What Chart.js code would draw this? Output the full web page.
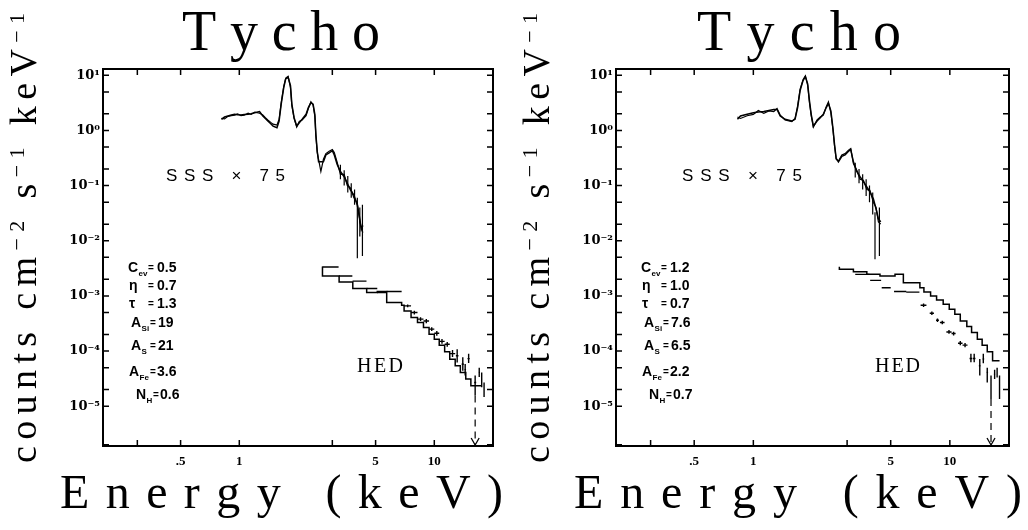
<!DOCTYPE html>
<html><head><meta charset="utf-8">
<script src="https://cdn.jsdelivr.net/npm/chart.js@4.4.1/dist/chart.umd.min.js"></script>
<style>
html,body{margin:0;padding:0;background:#fff;}
body{width:1028px;height:530px;position:relative;overflow:hidden;}
canvas{position:absolute;top:0;}
#cL{left:0;} #cR{left:513px;}
</style></head><body>
<canvas id="cL" width="515" height="530"></canvas>
<canvas id="cR" width="515" height="530"></canvas>
<script>
// ---------- axes ----------
const xMin = 0.2, xMax = 20;
const yMin = 1.9e-6, yMax = 13;
const xTickVals = [0.3, 0.5, 1, 3, 5, 10, 20];
const xTickText = ['', '.5', '1', '', '5', '10', ''];
const yTickVals = [2e-6, 1e-5, 2e-5, 5e-5, 1e-4, 2e-4, 5e-4, 1e-3, 2e-3, 5e-3, 1e-2, 2e-2, 5e-2, 0.1, 0.2, 0.5, 1, 2, 5, 10];
const yTickText = ['', '10⁻⁵', '', '', '10⁻⁴', '', '', '10⁻³', '', '', '10⁻²', '', '', '10⁻¹', '', '', '10⁰', '', '', '10¹'];

// ---------- text ----------
const titleText = 'Tycho';
const xTitleText = 'Energy (keV)';
const sssText = 'SSS × 75';
const hedText = 'HED';
const paramNames = ['C', 'η', 'τ', 'A', 'A', 'A', 'N'];
const paramSubs = ['ev', '', '', 'Si', 'S', 'Fe', 'H'];
const paramVals_L = ['0.5', '0.7', '1.3', '19', '21', '3.6', '0.6'];
const paramVals_R = ['1.2', '1.0', '0.7', '7.6', '6.5', '2.2', '0.7'];

// ---------- left panel: SSS ----------
const sssE_L = [0.81,0.84,0.875,0.91,0.946,0.98,1.02,1.06,1.11,1.15,1.20,1.27,1.32,1.36,1.40,1.45,1.49,1.56,1.60,1.64,1.69,1.73,1.78,1.83,1.86,1.91,1.97,2.03,2.10,2.20,2.26,2.33,2.39,2.44,2.47,2.51,2.55,2.62,2.70,2.78,2.89,3.00,3.07,3.18,3.30,3.45,3.58,3.72,3.87,4.03,4.15,4.22,4.30];
const sssModel_L = [1.59,1.75,1.83,1.90,1.96,1.93,1.91,1.95,1.96,2.0,2.1,2.2,1.83,1.65,1.48,1.32,1.2,1.12,1.48,3.0,6.0,8.6,9.2,6.5,3.0,1.70,1.2,1.38,1.59,1.96,2.6,3.2,3.0,1.96,0.84,0.42,0.27,0.27,0.27,0.36,0.39,0.43,0.36,0.24,0.18,0.145,0.11,0.083,0.067,0.044,0.025,0.016,0.019];
const sssObs_L = [1.66,1.62,1.80,1.85,1.90,2.0,1.86,1.90,2.05,1.95,2.15,2.05,1.90,1.70,1.55,1.40,1.30,1.25,1.60,3.2,6.3,8.9,9.6,6.0,2.8,1.65,1.15,1.45,1.55,1.85,2.5,3.3,2.9,1.8,0.80,0.40,0.30,0.18,0.30,0.38,0.42,0.45,0.40,0.26,0.16,0.16,0.10,0.09,0.060,0.048,0.022,0.018,0.014];
const sssErrE_L = [3.3, 3.45, 3.6, 3.75, 3.9, 4.03, 4.15, 4.28];
const sssErrLo_L = [0.13, 0.10, 0.075, 0.06, 0.045, 0.0048, 0.012, 0.0053];
const sssErrHi_L = [0.24, 0.19, 0.15, 0.11, 0.085, 0.06, 0.04, 0.045];
// ---------- left panel: HED ----------
const hedEdges_L = [2.67,3.25,3.82,4.5,5.1,5.7,6.8,7.0,7.6,8.2,8.8,9.4,10.0,10.6,11.3,12.0,12.8,13.6,14.5,15.4,16.5,17.5];
const hedModel_L = [3.4e-3,2.3e-3,1.78e-3,1.36e-3,1.15e-3,1.2e-3,7.6e-4,6.8e-4,5.3e-4,4.05e-4,3.3e-4,2.67e-4,2.02e-4,1.64e-4,1.28e-4,9.7e-5,7.1e-5,5.4e-5,4.1e-5,3.1e-5,2.35e-5];
const hedDE_L = [2.95,3.52,4.15,4.8,5.4,6.25,7.3,7.9,8.5,9.1,9.7,10.3,10.95,11.65,12.4,13.1,14.0,14.4,15.0,16.2,17.0,17.5,18.0];
const hedDW_L = [0.28,0.28,0.34,0.3,0.3,0.55,0.3,0.3,0.3,0.3,0.3,0.3,0.35,0.35,0.4,0.2,0.2,0.15,0.2,0.2,0.15,0.15,0.15];
const hedDV_L = [3.35e-3,2.3e-3,1.85e-3,1.36e-3,1.15e-3,1.2e-3,6.6e-4,5.0e-4,3.8e-4,3.5e-4,2.5e-4,2.1e-4,1.5e-4,1.33e-4,9.0e-5,8.2e-5,5.8e-5,4.6e-5,7.3e-5,2.7e-5,4.1e-5,3.1e-5,2.2e-5];
const hedDErrLo_L = [null,null,null,null,null,null,6.2e-4,4.6e-4,3.5e-4,3.2e-4,2.3e-4,1.9e-4,1.35e-4,1.2e-4,7.8e-5,6.2e-5,4.4e-5,3.6e-5,6.1e-5,1.57e-5,3.4e-5,2.2e-5,1.47e-5];
const hedDErrHi_L = [null,null,null,null,null,null,7.0e-4,5.4e-4,4.1e-4,3.8e-4,2.7e-4,2.3e-4,1.65e-4,1.46e-4,1.04e-4,1.08e-4,7.7e-5,5.8e-5,8.9e-5,3.6e-5,5.0e-5,4.1e-5,2.7e-5];
const ulE_L = 16.2, ulTop_L = 1.57e-5;

// ---------- right panel: SSS ----------
const sssE_R = [0.83,0.86,0.93,1.0,1.06,1.13,1.20,1.27,1.32,1.37,1.45,1.57,1.63,1.68,1.73,1.79,1.84,1.89,1.93,1.97,2.02,2.11,2.19,2.27,2.35,2.41,2.48,2.54,2.59,2.64,2.71,2.82,2.93,3.05,3.13,3.23,3.36,3.49,3.63,3.78,3.92,4.08,4.21,4.33,4.45];
const sssModel_R = [1.59,1.83,1.96,2.1,2.15,2.2,2.3,2.4,2.4,1.83,1.59,1.48,1.59,2.6,5.3,8.0,9.5,7.0,3.45,1.96,1.2,1.48,1.70,1.96,2.6,3.1,2.26,1.12,0.55,0.31,0.27,0.34,0.36,0.42,0.45,0.27,0.18,0.145,0.118,0.095,0.077,0.058,0.038,0.025,0.022];
const sssObs_R = [1.75,1.65,1.85,1.95,2.3,2.05,2.25,2.2,2.5,1.9,1.55,1.45,1.65,2.8,5.6,8.3,9.8,6.6,3.2,1.85,1.15,1.55,1.75,1.9,2.7,3.3,2.1,1.05,0.52,0.30,0.28,0.36,0.38,0.44,0.47,0.25,0.19,0.13,0.125,0.085,0.082,0.05,0.04,0.022,0.02];
const sssErrE_R = [3.3, 3.45, 3.6, 3.75, 3.9, 4.05, 4.16, 4.38];
const sssErrLo_R = [0.14, 0.11, 0.085, 0.065, 0.05, 0.03, 0.0046, 0.0053];
const sssErrHi_R = [0.26, 0.2, 0.16, 0.13, 0.1, 0.075, 0.033, 0.04];
// ---------- right panel: HED ----------
const hedEdges_R = [2.74,3.23,3.78,4.41,5.26,5.8,7.04,7.38,7.98,8.56,9.25,9.93,10.6,11.3,12.2,12.9,13.8,14.6,15.5,16.5,17.3,17.9];
const hedModel_R = [3.39e-3,3.03e-3,2.75e-3,2.46e-3,2.29e-3,2.46e-3,1.74e-3,1.41e-3,1.18e-3,9.96e-4,8.4e-4,7.05e-4,5.72e-4,4.65e-4,3.52e-4,2.79e-4,2.17e-4,1.64e-4,1.28e-4,9.7e-5,6.65e-5];
const hedDE_R = [3.6,4.2,4.75,5.6,6.5,7.35,8.1,8.65,9.15,9.9,10.45,11.3,11.95,12.8,13.3,14.2,14.8,15.5,16.2,16.9,17.4,17.9];
const hedDW_R = [0.3,0.27,0.25,0.4,0.5,0.25,0.2,0.15,0.25,0.3,0.25,0.3,0.35,0.2,0.2,0.15,0.15,0.15,0.1,0.15,0.1,0.1];
const hedDV_R = [2.46e-3,1.91e-3,1.41e-3,1.2e-3,1.17e-3,6.76e-4,4.85e-4,3.62e-4,3.29e-4,2.22e-4,2.08e-4,1.39e-4,1.28e-4,7.35e-5,7.35e-5,5.4e-5,7.2e-5,4.1e-5,2.7e-5,3.8e-5,4.1e-5,2.35e-5];
const hedDErrLo_R = [null,null,null,null,null,6.3e-4,4.5e-4,3.35e-4,3.05e-4,2.05e-4,1.92e-4,1.27e-4,1.17e-4,6.3e-5,6.3e-5,3.6e-5,6.0e-5,2.7e-5,1.35e-5,3.1e-5,3.3e-5,1.35e-5];
const hedDErrHi_R = [null,null,null,null,null,7.3e-4,5.2e-4,3.9e-4,3.55e-4,2.4e-4,2.25e-4,1.52e-4,1.4e-4,8.9e-5,8.9e-5,7.2e-5,8.9e-5,5.0e-5,3.6e-5,4.6e-5,5.0e-5,3.6e-5];
const ulE_R = 16.2, ulTop_R = 1.35e-5;

// ---------- builders ----------
function linePts(E, V) { return E.map((e, i) => ({x: e, y: V[i]})); }
function histPts(edges, vals) {
  const pts = vals.map((v, i) => ({x: edges[i], y: v}));
  pts.push({x: edges[edges.length - 1], y: vals[vals.length - 1]});
  return pts;
}
function barPts(E, lo, hi) {
  const pts = [];
  E.forEach((e, i) => { pts.push({x: e, y: lo[i]}, {x: e, y: hi[i]}, {x: e, y: null}); });
  return pts;
}
function crossPts(E, W, V, lo, hi) {
  const pts = [];
  E.forEach((e, i) => {
    pts.push({x: e - W[i], y: V[i]}, {x: e + W[i], y: V[i]}, {x: e, y: null});
    if (lo[i] != null) pts.push({x: e, y: lo[i]}, {x: e, y: hi[i]}, {x: e, y: null});
  });
  return pts;
}

// ---------- text helpers ----------
function drawSpaced(ctx, text, x0, x1, baseline, font) {
  ctx.font = font;
  const chars = [...text];
  const w = chars.map(c => ctx.measureText(c).width);
  const tot = w.reduce((a, b) => a + b, 0);
  const gap = chars.length > 1 ? (x1 - x0 - tot) / (chars.length - 1) : 0;
  let x = x0;
  chars.forEach((c, i) => { ctx.fillText(c, x, baseline); x += w[i] + gap; });
}
function drawRichSpaced(ctx, parts, len) {
  const glyphs = [];
  parts.forEach(p => { ctx.font = p.font; [...p.t].forEach(c => glyphs.push({c, font: p.font, dy: p.dy, w: ctx.measureText(c).width})); });
  const tot = glyphs.reduce((a, g) => a + g.w, 0);
  const gap = (len - tot) / (glyphs.length - 1);
  let x = 0;
  glyphs.forEach(g => { ctx.font = g.font; ctx.fillText(g.c, x, g.dy); x += g.w + gap; });
}

const decor = {
  id: 'decor',
  afterDraw(chart, args, o) {
    const {ctx, chartArea: a} = chart;
    const xs = chart.scales.x, ys = chart.scales.y;
    ctx.save();
    ctx.strokeStyle = '#000'; ctx.fillStyle = '#000';
    ctx.setLineDash([]);
    // frame
    ctx.lineWidth = 2;
    ctx.strokeRect(a.left, a.top, a.right - a.left, a.bottom - a.top);
    // inward ticks on all four sides
    ctx.lineWidth = 1.5;
    ctx.beginPath();
    xTickVals.forEach(v => {
      const px = xs.getPixelForValue(v);
      if (px <= a.left + 1 || px >= a.right - 1) return;
      ctx.moveTo(px, a.bottom); ctx.lineTo(px, a.bottom - 6);
      ctx.moveTo(px, a.top); ctx.lineTo(px, a.top + 6);
    });
    yTickVals.forEach(v => {
      const py = ys.getPixelForValue(v);
      if (py >= a.bottom - 0.5 || py <= a.top + 1) return;
      ctx.moveTo(a.left, py); ctx.lineTo(a.left + 6, py);
      ctx.moveTo(a.right, py); ctx.lineTo(a.right - 6, py);
    });
    ctx.stroke();
    // arrow head of the upper limit
    const ux = xs.getPixelForValue(o.ulE);
    ctx.lineWidth = 1.3;
    ctx.beginPath();
    ctx.moveTo(ux - 4, a.bottom - 8); ctx.lineTo(ux, a.bottom - 1); ctx.lineTo(ux + 4, a.bottom - 8);
    ctx.stroke();
    // titles
    ctx.textBaseline = 'alphabetic'; ctx.textAlign = 'left';
    drawSpaced(ctx, titleText, o.title[0], o.title[1], 50, '56px "Liberation Serif"');
    drawSpaced(ctx, xTitleText, o.energy[0], o.energy[1], 508, '48px "Liberation Serif"');
    drawSpaced(ctx, sssText, o.sss[0], o.sss[1], 180.5, '17px "Liberation Sans"');
    drawSpaced(ctx, hedText, o.hed[0], o.hed[1], 371.5, '20px "Liberation Serif"');
    // y title (rotated)
    ctx.save();
    ctx.translate(o.yTitleX, 463);
    ctx.rotate(-Math.PI / 2);
    const big = '38px "Liberation Serif"', small = '22px "Liberation Serif"';
    drawRichSpaced(ctx, [
      {t: 'counts cm', font: big, dy: 0}, {t: '−2', font: small, dy: -12},
      {t: ' s', font: big, dy: 0}, {t: '−1', font: small, dy: -12},
      {t: ' keV', font: big, dy: 0}, {t: '−1', font: small, dy: -12}
    ], 450);
    ctx.restore();
    // parameters
    const nameX = [128, 129, 129, 131, 131, 129, 136];
    const eqX = [148, 148, 148, 150, 150, 150, 153];
    const valX = [157, 157, 157, 158, 158, 157, 160];
    const base = [271.7, 290, 308.3, 326.7, 350, 376, 399.3];
    paramNames.forEach((n, i) => {
      ctx.font = 'bold 14px "Liberation Sans"';
      ctx.fillText(n, nameX[i], base[i]);
      const w = ctx.measureText(n).width;
      ctx.fillText(o.params[i], valX[i], base[i]);
      ctx.font = 'bold 10px "Liberation Sans"';
      ctx.fillText('=', eqX[i], base[i] - 1);
      if (paramSubs[i]) {
        ctx.font = 'bold 8px "Liberation Sans"';
        ctx.fillText(paramSubs[i], nameX[i] + w + 0.5, base[i] + 4);
      }
    });
    ctx.restore();
  }
};

function makeChart(id, p, deco, padRight) {
  const base = {borderColor: '#000', backgroundColor: '#000', pointRadius: 0, fill: false, tension: 0, spanGaps: false};
  return new Chart(document.getElementById(id), {
    type: 'line',
    data: {
      datasets: [
        {...base, label: 'SSS model', data: linePts(p.sssE, p.sssModel), borderWidth: 1.5},
        {...base, label: 'SSS data', data: linePts(p.sssE, p.sssObs), borderWidth: 1.2},
        {...base, label: 'SSS errors', data: barPts(p.sssErrE, p.sssErrLo, p.sssErrHi), borderWidth: 1.2},
        {...base, label: 'HED model', data: histPts(p.hedEdges, p.hedModel), stepped: 'after', borderWidth: 1.5},
        {...base, label: 'HED data', data: crossPts(p.hedDE, p.hedDW, p.hedDV, p.hedDErrLo, p.hedDErrHi), borderWidth: 1.4},
        {...base, label: 'HED upper limit', data: [{x: p.ulE, y: p.ulTop}, {x: p.ulE, y: yMin}], borderDash: [7, 5], borderWidth: 1.2}
      ]
    },
    options: {
      responsive: false, animation: false, events: [],
      layout: {padding: {left: 0, right: padRight, top: 69, bottom: 0}},
      plugins: {legend: {display: false}, title: {display: false}, tooltip: {enabled: false}, decor: deco},
      scales: {
        x: {
          type: 'logarithmic', min: xMin, max: xMax, position: 'bottom',
          grid: {display: false, drawTicks: false}, border: {display: false},
          afterBuildTicks: s => { s.ticks = xTickVals.map(v => ({value: v})); },
          afterFit: s => { s.height = 84; },
          ticks: {
            autoSkip: false, maxRotation: 0, padding: 8, color: '#000',
            font: {family: '"Liberation Serif"', weight: 'bold', size: 13},
            callback: (v) => { const i = xTickVals.indexOf(v); return i >= 0 ? xTickText[i] : ''; }
          }
        },
        y: {
          type: 'logarithmic', min: yMin, max: yMax, position: 'left',
          grid: {display: false, drawTicks: false}, border: {display: false},
          afterBuildTicks: s => { s.ticks = yTickVals.map(v => ({value: v})); },
          afterFit: s => { s.width = 103; },
          ticks: {
            autoSkip: false, padding: 3, color: '#000',
            font: {family: '"DejaVu Serif"', weight: 'bold', size: 13},
            callback: (v) => { const i = yTickVals.indexOf(v); return i >= 0 ? yTickText[i] : ''; }
          }
        }
      }
    },
    plugins: [decor]
  });
}

makeChart('cL', {
  sssE: sssE_L, sssModel: sssModel_L, sssObs: sssObs_L,
  sssErrE: sssErrE_L, sssErrLo: sssErrLo_L, sssErrHi: sssErrHi_L,
  hedEdges: hedEdges_L, hedModel: hedModel_L,
  hedDE: hedDE_L, hedDW: hedDW_L, hedDV: hedDV_L, hedDErrLo: hedDErrLo_L, hedDErrHi: hedDErrHi_L,
  ulE: ulE_L, ulTop: ulTop_L
}, {title: [182, 380], energy: [60, 503], sss: [166, 285], hed: [357, 403], yTitleX: 36, ulE: ulE_L, params: paramVals_L}, 22);

makeChart('cR', {
  sssE: sssE_R, sssModel: sssModel_R, sssObs: sssObs_R,
  sssErrE: sssErrE_R, sssErrLo: sssErrLo_R, sssErrHi: sssErrHi_R,
  hedEdges: hedEdges_R, hedModel: hedModel_R,
  hedDE: hedDE_R, hedDW: hedDW_R, hedDV: hedDV_R, hedDErrLo: hedDErrLo_R, hedDErrHi: hedDErrHi_R,
  ulE: ulE_R, ulTop: ulTop_R
}, {title: [184, 388], energy: [61, 509], sss: [169, 289], hed: [362, 407], yTitleX: 36, ulE: ulE_R, params: paramVals_R}, 19);
</script>
</body></html>
